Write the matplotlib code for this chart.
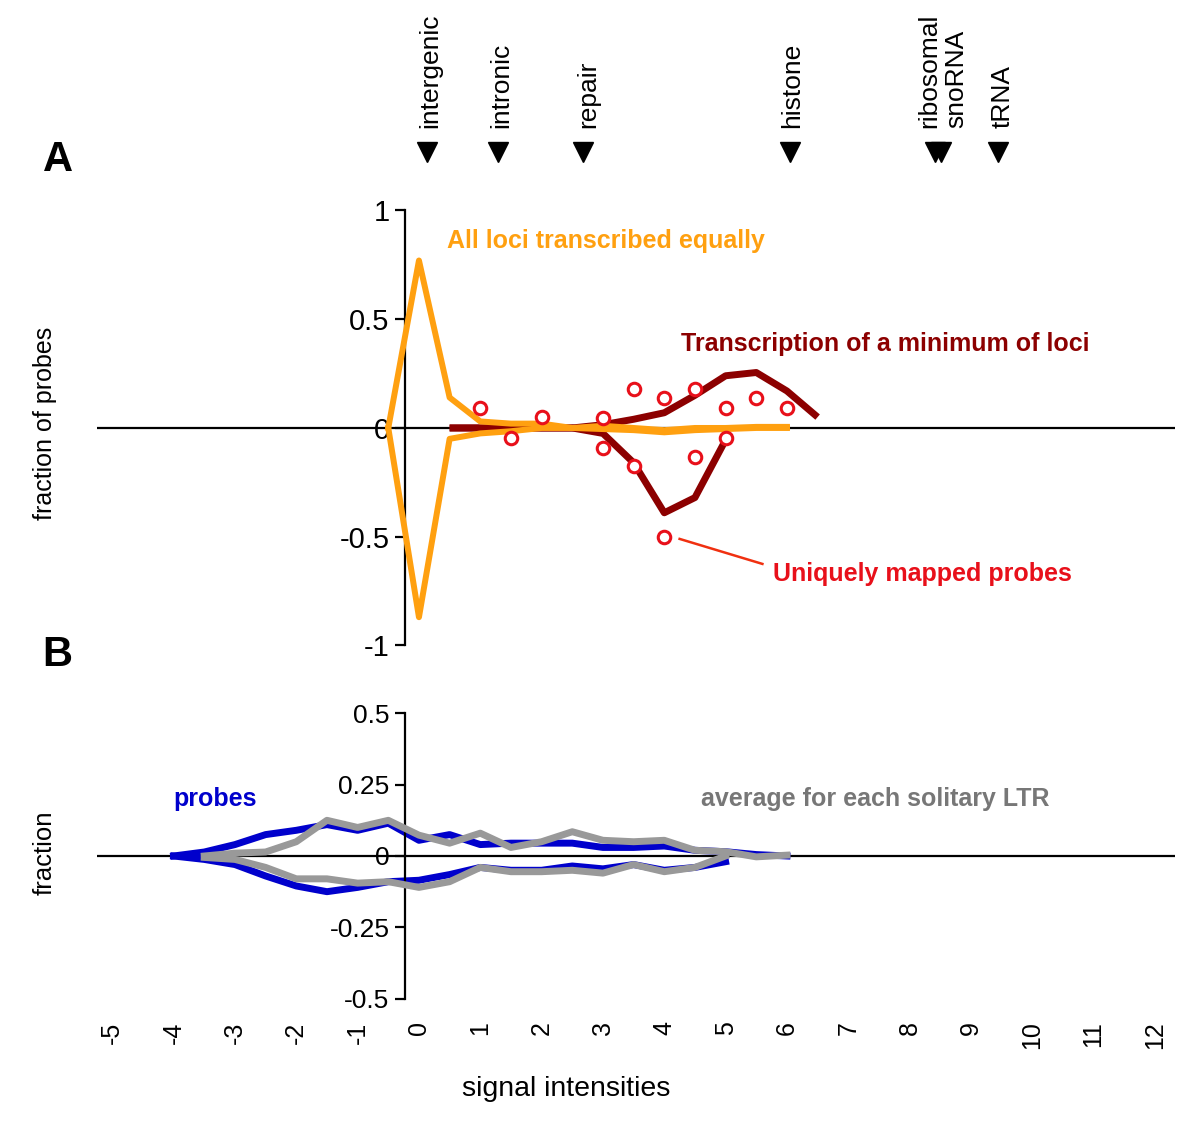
"""Signal intensity distributions of probes (panels A and B)"""

import numpy as np
import matplotlib.pyplot as plt

plt.rcParams['font.family'] = ['Liberation Sans', 'DejaVu Sans']

# Panel A: all loci transcribed equally (orange), upper and lower branch
x_orange = [-0.5, 0, 0.5, 1, 1.5, 2, 2.5, 3, 3.5, 4, 4.5, 5, 5.5, 6]
orange_up = [0, 0.77, 0.14, 0.03, 0.02, 0.02, 0.0, 0.01, 0.0, -0.01, 0.0, 0.0, 0.005, 0.005]
orange_dn = [0, -0.87, -0.05, -0.025, -0.015, 0.0, 0.0, -0.005, -0.01, -0.02, -0.01, -0.005, 0.0, 0.0]

# Panel A: transcription of a minimum of loci (dark red)
x_min_up = [0.5, 1, 1.5, 2, 2.5, 3, 3.5, 4, 4.5, 5, 5.5, 6, 6.5]
min_up = [0, 0, 0, 0, 0, 0.015, 0.04, 0.07, 0.15, 0.24, 0.255, 0.17, 0.05]
x_min_dn = [0.5, 1, 1.5, 2, 2.5, 3, 3.5, 4, 4.5, 5]
min_dn = [0, 0, 0, 0, 0, -0.025, -0.16, -0.39, -0.32, -0.055]

# Panel A: uniquely mapped probes (circles)
x_uniq = [1, 1.5, 2, 3, 3, 3.5, 3.5, 4, 4, 4.5, 4.5, 5, 5, 5.5, 6]
uniq = [0.09, -0.045, 0.05, 0.045, -0.09, 0.18, -0.175, 0.14, -0.5, 0.18, -0.135, 0.09, -0.045, 0.14, 0.09]

# Panel B: probes (blue) and solitary LTR average (gray)
x_blue_up = [-4, -3.5, -3, -2.5, -2, -1.5, -1, -0.5, 0, 0.5, 1, 1.5, 2, 2.5, 3, 3.5, 4, 4.5, 5, 5.5, 6]
blue_up = [0, 0.014, 0.04, 0.075, 0.09, 0.11, 0.09, 0.115, 0.055, 0.075, 0.04, 0.045, 0.045, 0.045,
           0.03, 0.03, 0.035, 0.02, 0.015, 0.005, 0]
x_blue_dn = [-4, -3.5, -3, -2.5, -2, -1.5, -1, -0.5, 0, 0.5, 1, 1.5, 2, 2.5, 3, 3.5, 4, 4.5, 5]
blue_dn = [0, -0.012, -0.03, -0.07, -0.105, -0.125, -0.11, -0.09, -0.085, -0.065, -0.04, -0.05, -0.05,
           -0.035, -0.045, -0.03, -0.05, -0.04, -0.02]
x_gray_up = [-3.5, -3, -2.5, -2, -1.5, -1, -0.5, 0, 0.5, 1, 1.5, 2, 2.5, 3, 3.5, 4, 4.5, 5, 5.5, 6]
gray_up = [0, 0.01, 0.014, 0.05, 0.125, 0.1, 0.125, 0.073, 0.045, 0.08, 0.03, 0.05, 0.085, 0.055,
           0.05, 0.055, 0.02, 0.015, -0.003, 0.003]
x_gray_dn = [-3.5, -3, -2.5, -2, -1.5, -1, -0.5, 0, 0.5, 1, 1.5, 2, 2.5, 3, 3.5, 4, 4.5, 5]
gray_dn = [-0.005, -0.012, -0.04, -0.08, -0.08, -0.095, -0.09, -0.11, -0.09, -0.04, -0.055, -0.055,
           -0.05, -0.06, -0.03, -0.055, -0.04, 0]

# Gene class markers on top
marker_x = [0.13, 1.29, 2.67, 6.05, 8.41, 8.52, 9.44]
marker_labels = ['intergenic', 'intronic', 'repair', 'histone', 'ribosomal', 'snoRNA', 'tRNA']
label_x = [0.18, 1.35, 2.76, 6.08, 8.32, 8.76, 9.51]

xticks = list(range(-5, 13))

ORANGE = '#FFA010'
DARKRED = '#8C0000'
RED = '#E8101A'
BLUE = '#0000CC'
GRAY = '#999999'

fig = plt.figure(figsize=(12, 11.34), dpi=100)
XLIM = (-5.25, 12.32)
YAX = -0.23  # position of the vertical axis

# ---- panel A ----
axA = fig.add_axes([0.0808, 0.4212, 0.898, 0.4028])
axA.set_xlim(*XLIM)
axA.set_ylim(-1.05, 1.05)
axA.axhline(0, color='black', lw=1.6, zorder=1)
axA.plot(x_min_up, min_up, color=DARKRED, lw=5, solid_capstyle='butt', zorder=2)
axA.plot(x_min_dn, min_dn, color=DARKRED, lw=5, solid_capstyle='butt', zorder=2)
axA.plot(x_orange, orange_up, color=ORANGE, lw=4.3, zorder=3)
axA.plot(x_orange, orange_dn, color=ORANGE, lw=4.3, zorder=3)
axA.plot(x_uniq, uniq, 'o', ms=9, mfc='white', mec=RED, mew=2.2, zorder=4, clip_on=False)
axA.plot([4.25, 5.6], [-0.51, -0.625], color='#F03010', lw=1.8)

axA.text(0.45, 0.86, 'All loci transcribed equally', color=ORANGE, fontsize=18,
         fontweight='bold', va='center')
axA.text(4.28, 0.385, 'Transcription of a minimum of loci', color=DARKRED, fontsize=18,
         fontweight='bold', va='center')
axA.text(5.78, -0.67, 'Uniquely mapped probes', color=RED, fontsize=18,
         fontweight='bold', va='center')

for s in ['top', 'right', 'bottom']:
    axA.spines[s].set_visible(False)
axA.spines['left'].set_position(('data', YAX))
axA.spines['left'].set_bounds(-1, 1)
axA.spines['left'].set_linewidth(1.6)
axA.set_yticks([-1, -0.5, 0, 0.5, 1])
axA.set_yticklabels(['-1', '-0.5', '0', '0.5', '1'])
axA.tick_params(axis='y', length=7, width=1.6, labelsize=21, pad=4)
axA.set_xticks([])
axA.set_ylabel('fraction of probes', fontsize=18)
axA.yaxis.set_label_coords(-0.0375, 0.51)

# markers above panel A
for mx in marker_x:
    axA.plot(mx, 1.27, marker='v', color='black', ms=15, clip_on=False)
for lx, lab in zip(label_x, marker_labels):
    axA.text(lx, 1.38, lab, rotation=90, fontsize=19, ha='center', va='bottom')

# ---- panel B ----
axB = fig.add_axes([0.0808, 0.1067, 0.898, 0.2769])
axB.set_xlim(*XLIM)
axB.set_ylim(-0.55, 0.55)
axB.axhline(0, color='black', lw=1.6, zorder=1)
axB.plot(x_blue_up, blue_up, color=BLUE, lw=5, zorder=2)
axB.plot(x_blue_dn, blue_dn, color=BLUE, lw=5, zorder=2)
axB.plot(x_gray_up, gray_up, color=GRAY, lw=5, zorder=3)
axB.plot(x_gray_dn, gray_dn, color=GRAY, lw=5, zorder=3)

axB.text(-4, 0.2, 'probes', color=BLUE, fontsize=18, fontweight='bold', va='center')
axB.text(4.6, 0.2, 'average for each solitary LTR', color='#777777', fontsize=18,
         fontweight='bold', va='center')

for s in ['top', 'right', 'bottom']:
    axB.spines[s].set_visible(False)
axB.spines['left'].set_position(('data', YAX))
axB.spines['left'].set_bounds(-0.5, 0.5)
axB.spines['left'].set_linewidth(1.6)
axB.set_yticks([-0.5, -0.25, 0, 0.25, 0.5])
axB.set_yticklabels(['-0.5', '-0.25', '0', '0.25', '0.5'])
axB.tick_params(axis='y', length=7, width=1.6, labelsize=19, pad=4)
axB.set_xticks(xticks)
axB.set_xticklabels([str(t) for t in xticks], rotation=90)
axB.tick_params(axis='x', length=0, labelsize=18, pad=6)
axB.set_ylabel('fraction', fontsize=18.5)
axB.yaxis.set_label_coords(-0.0375, 0.51)

fig.text(0.472, 0.04, 'signal intensities', fontsize=20.5, ha='center', va='center')
fig.text(0.048, 0.859, 'A', fontsize=30, fontweight='bold', ha='center', va='center')
fig.text(0.048, 0.422, 'B', fontsize=30, fontweight='bold', ha='center', va='center')

plt.savefig('out.png', dpi=100)
